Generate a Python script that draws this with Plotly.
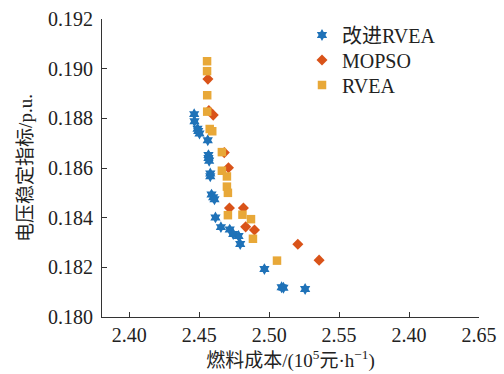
import plotly.graph_objects as go

# 改进RVEA (blue stars)
rvea_imp_x = [2.4464, 2.4466, 2.4488, 2.4493, 2.4502, 2.4561, 2.4566, 2.4566, 2.4571, 2.4579, 2.4579,
              2.4588, 2.4600, 2.4609, 2.4616, 2.4655, 2.4718, 2.4743, 2.4781, 2.4793, 2.4966, 2.5089,
              2.5102, 2.5257]
rvea_imp_y = [0.18817, 0.18788, 0.18758, 0.18749, 0.18739, 0.18712, 0.18652, 0.18640, 0.18629, 0.18578,
              0.18567, 0.18493, 0.18482, 0.18474, 0.18401, 0.18362, 0.18352, 0.18334, 0.18326, 0.18294,
              0.18193, 0.18120, 0.18118, 0.18113]

# MOPSO (diamonds)
mopso_x = [2.4562, 2.4569, 2.4600, 2.4679, 2.4709, 2.4716, 2.4816, 2.4832, 2.4895, 2.5205, 2.5357]
mopso_y = [0.18958, 0.18831, 0.18813, 0.18662, 0.18601, 0.18439, 0.18439, 0.18363, 0.18350, 0.18293, 0.18229]

# RVEA (squares)
rvea_x = [2.4556, 2.4556, 2.4557, 2.4557, 2.4575, 2.4593, 2.4662, 2.4662, 2.4698, 2.4698, 2.4705,
          2.4705, 2.4809, 2.4870, 2.4884, 2.5056]
rvea_y = [0.19030, 0.18990, 0.18893, 0.18827, 0.18757, 0.18748, 0.18664, 0.18589, 0.18566, 0.18525,
          0.18500, 0.18410, 0.18412, 0.18394, 0.18315, 0.18227]

x_tickvals = [2.40, 2.45, 2.50, 2.55, 2.60, 2.65]
x_ticktext = ["2.40", "2.45", "2.50", "2.55", "2.40", "2.65"]
y_tickvals = [0.180, 0.182, 0.184, 0.186, 0.188, 0.190, 0.192]
y_ticktext = ["0.180", "0.182", "0.184", "0.186", "0.188", "0.190", "0.192"]

FONT = "Liberation Serif, Times New Roman, Noto Sans CJK SC, serif"

fig = go.Figure()
fig.add_trace(go.Scatter(x=rvea_imp_x, y=rvea_imp_y, mode="markers", name="改进RVEA", legend="legend",
                         marker=dict(symbol="hexagram", size=9, color="#1f72b8", line=dict(width=0))))
fig.add_trace(go.Scatter(x=mopso_x, y=mopso_y, mode="markers", name="MOPSO", legend="legend2",
                         marker=dict(symbol="diamond", size=8.5, color="#d95319", line=dict(width=0))))
fig.add_trace(go.Scatter(x=rvea_x, y=rvea_y, mode="markers", name="RVEA", legend="legend3",
                         marker=dict(symbol="square", size=8.5, color="#e8a838", line=dict(width=0))))

axis_common = dict(showgrid=False, zeroline=False, showline=True, linecolor="#333333", linewidth=1,
                   ticks="inside", ticklen=5, tickcolor="#333333", mirror=False, automargin=False,
                   tickfont=dict(family=FONT, size=20, color="#222222"))

leg_common = dict(xanchor="left", yanchor="middle", bgcolor="rgba(0,0,0,0)",
                  font=dict(family=FONT, size=20, color="#222222"), itemsizing="trace",
                  borderwidth=0)

# plot area: 102..479 px horizontally, 19..317 px vertically
def px_to_paper_x(px):
    return (px - 102) / (479 - 102)

def px_to_paper_y(py):
    return (317 - py) / (317 - 19)

fig.update_layout(
    width=504, height=374,
    margin=dict(l=102, r=25, t=19, b=57),
    paper_bgcolor="white", plot_bgcolor="white",
    font=dict(family=FONT, size=20, color="#222222"),
    xaxis=dict(range=[2.3805, 2.65], tickvals=x_tickvals, ticktext=x_ticktext,
               title=dict(text="燃料成本/(10<sup>5</sup>元·h<sup>−1</sup>)", standoff=8,
                          font=dict(family=FONT, size=19, color="#222222")),
               **axis_common),
    yaxis=dict(range=[0.180, 0.192], tickvals=y_tickvals, ticktext=y_ticktext,
               ticklabelstandoff=4,
               title=dict(text="电压稳定指标/p.u.", standoff=10,
                          font=dict(family=FONT, size=19, color="#222222")),
               **axis_common),
    legend=dict(x=px_to_paper_x(302), y=px_to_paper_y(35), **leg_common),
    legend2=dict(x=px_to_paper_x(302), y=px_to_paper_y(60), **leg_common),
    legend3=dict(x=px_to_paper_x(302), y=px_to_paper_y(85), **leg_common),
    showlegend=True,
)

fig.write_html("out.html")
